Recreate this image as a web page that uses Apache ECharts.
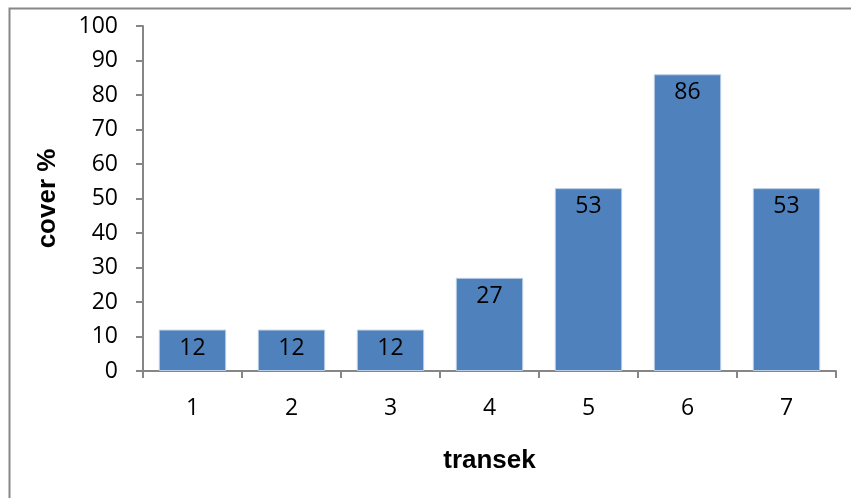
<!DOCTYPE html>
<html>
<head>
<meta charset="utf-8">
<script src="https://cdn.jsdelivr.net/npm/echarts@6/dist/echarts.min.js"></script>
<style>
html,body{margin:0;padding:0;background:#fff;}
#c{width:851px;height:498px;}
</style>
</head>
<body>
<div id="c"></div>
<script>
const categories = ['1','2','3','4','5','6','7'];
const coverValues = [12, 12, 12, 27, 53, 86, 53];
const yTicks = [0, 10, 20, 30, 40, 50, 60, 70, 80, 90, 100];

const chart = echarts.init(document.getElementById('c'), null, {renderer:'canvas'});
chart.setOption({
  backgroundColor: '#ffffff',
  animation: false,
  graphic: [{
    type: 'rect',
    shape: {x: 9.5, y: 8.5, width: 900, height: 600},
    style: {fill: 'none', stroke: '#878787', lineWidth: 2},
    silent: true
  }],
  grid: {left: 143, right: 15, top: 26, bottom: 127, containLabel: false},
  xAxis: {
    type: 'category',
    data: categories,
    name: 'transek',
    nameLocation: 'middle',
    nameGap: 77,
    nameTextStyle: {fontFamily: 'Liberation Sans', fontWeight: 'bold', fontSize: 26, color: '#000'},
    axisLine: {lineStyle: {color: '#868686', width: 2}},
    axisTick: {show: true, alignWithLabel: false, length: 7, lineStyle: {color: '#868686', width: 2}},
    axisLabel: {fontFamily: 'Open Sans', fontSize: 23, color: '#000', margin: 26}
  },
  yAxis: {
    type: 'value',
    min: yTicks[0],
    max: yTicks[yTicks.length - 1],
    interval: 10,
    name: 'cover %',
    nameLocation: 'middle',
    nameGap: 82,
    nameRotate: 90,
    nameTextStyle: {fontFamily: 'Liberation Sans', fontWeight: 'bold', fontSize: 26, color: '#000'},
    splitLine: {show: false},
    axisLine: {show: true, lineStyle: {color: '#868686', width: 2}},
    axisTick: {show: true, length: 7, lineStyle: {color: '#868686', width: 2}},
    axisLabel: {fontFamily: 'Open Sans', fontSize: 23, color: '#000', margin: 25}
  },
  series: [{
    type: 'bar',
    data: coverValues,
    barCategoryGap: '32%',
    itemStyle: {color: '#4F81BD', borderColor: '#B9CDE5', borderWidth: 1},
    label: {
      show: true,
      position: 'insideTop',
      distance: 7,
      fontFamily: 'Open Sans',
      fontSize: 23,
      color: '#000'
    }
  }]
});
</script>
</body>
</html>
